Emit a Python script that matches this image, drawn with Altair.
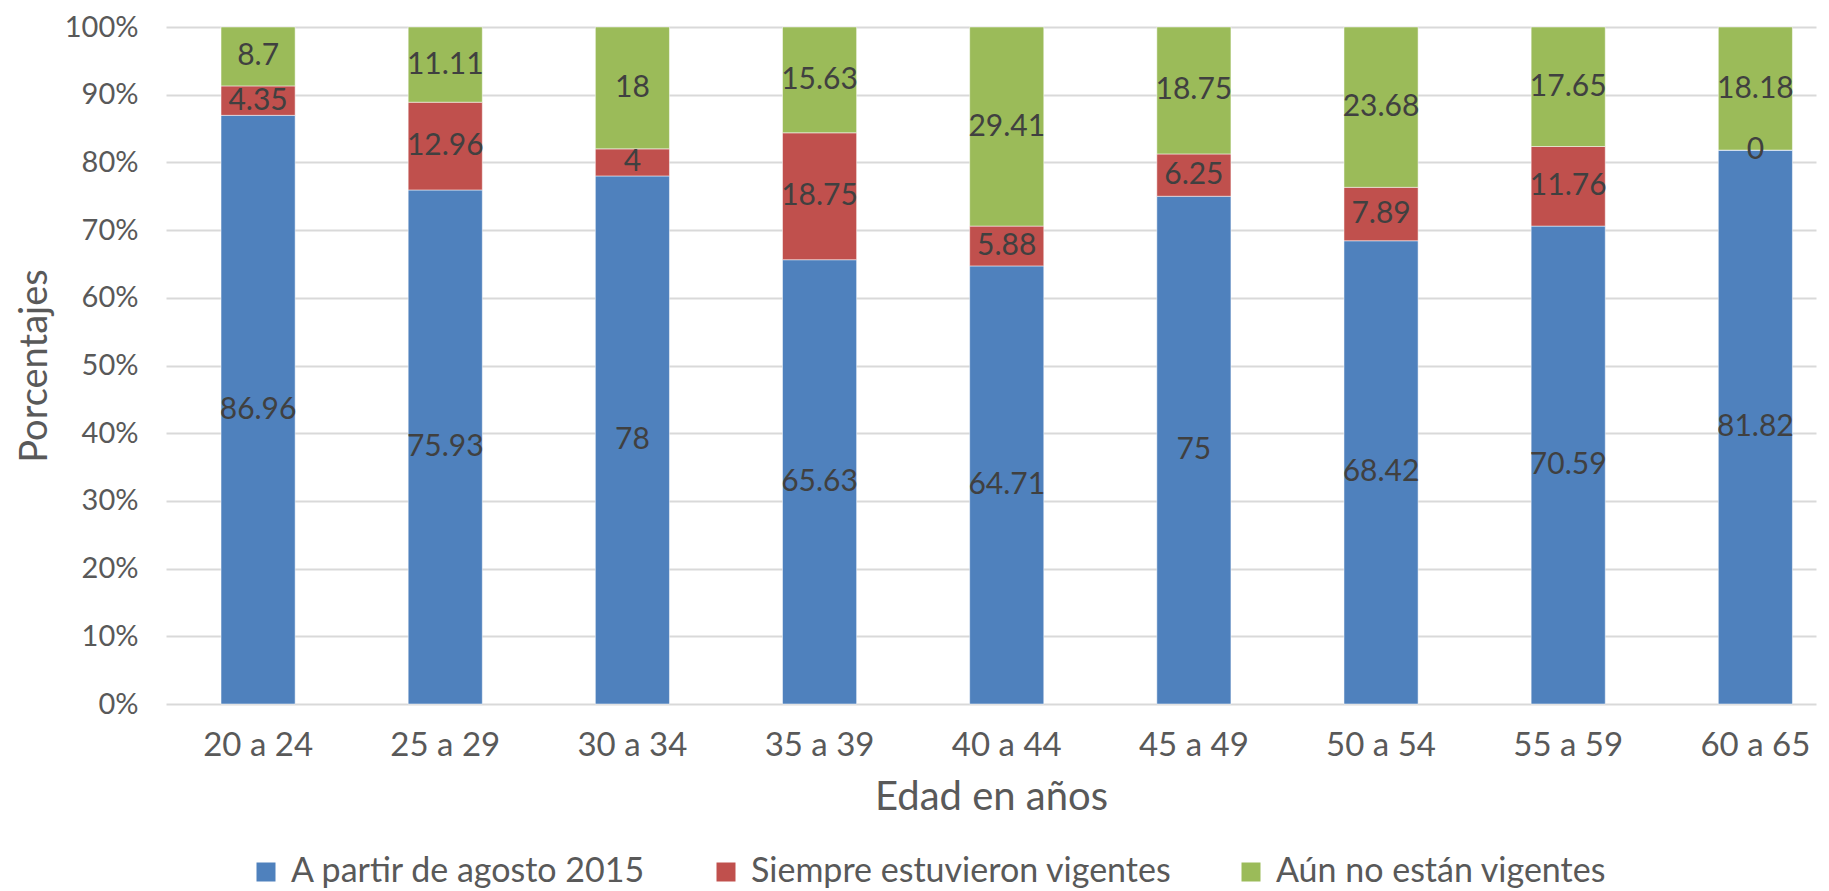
import altair as alt
import pandas as pd

categories = ["20 a 24", "25 a 29", "30 a 34", "35 a 39", "40 a 44",
              "45 a 49", "50 a 54", "55 a 59", "60 a 65"]
series = ["A partir de agosto 2015", "Siempre estuvieron vigentes", "Aún no están vigentes"]
a_partir = [86.96, 75.93, 78, 65.63, 64.71, 75, 68.42, 70.59, 81.82]
siempre = [4.35, 12.96, 4, 18.75, 5.88, 6.25, 7.89, 11.76, 0]
aun_no = [8.7, 11.11, 18, 15.63, 29.41, 18.75, 23.68, 17.65, 18.18]
colors = ["#4F81BD", "#C0504D", "#9BBB59"]

rows = []
for i, c in enumerate(categories):
    for k, (s, vals) in enumerate(zip(series, [a_partir, siempre, aun_no])):
        rows.append({"cat": c, "serie": s, "order": k, "value": vals[i],
                     "label": f"{vals[i]:g}"})
df = pd.DataFrame(rows)

FONT = "Lato"

base = alt.Chart(df).transform_stack(
    stack="value", groupby=["cat"], sort=[alt.SortField("order")],
    as_=["y0", "y1"], offset="normalize"
).transform_calculate(mid="(datum.y0 + datum.y1) / 2")

xenc = alt.X("cat:N", sort=categories, title="Edad en años",
             scale=alt.Scale(paddingInner=0.604, paddingOuter=0.21, align=0.7),
             axis=alt.Axis(labelAngle=0, domain=False, ticks=False,
                           labelFontSize=33, labelColor="#595959", labelPadding=25,
                           titleFontSize=40, titleColor="#595959", titleFontWeight="normal",
                           titlePadding=15, labelFont=FONT, titleFont=FONT))

bars = base.mark_bar(stroke="white", strokeWidth=0.5).encode(
    x=xenc,
    y=alt.Y("y0:Q", title="Porcentajes",
            scale=alt.Scale(domain=[0, 1], nice=False),
            axis=alt.Axis(format=".0%", values=[i / 10 for i in range(11)],
                          domain=False, ticks=False, labelFontSize=29,
                          labelColor="#595959", labelPadding=28, gridColor="#D9D9D9",
                          gridWidth=2, titleFontSize=38, titleColor="#595959",
                          titleFontWeight="normal", titlePadding=10,
                          labelFont=FONT, titleFont=FONT)),
    y2="y1:Q",
    color=alt.Color("serie:N", scale=alt.Scale(domain=series, range=colors),
                    sort=series,
                    legend=alt.Legend(title=None, orient="none", direction="horizontal",
                                      legendX=83, legendY=828, symbolType="square",
                                      symbolSize=361, symbolStrokeWidth=0,
                                      labelFontSize=34, labelColor="#595959",
                                      labelFont=FONT, columnPadding=62, labelOffset=8,
                                      labelLimit=700)),
)

labels = base.mark_text(fontSize=30, color="#404040", font=FONT, baseline="middle").encode(
    x=alt.X("cat:N", sort=categories),
    y=alt.Y("mid:Q"),
    text="label:N",
)

chart = (bars + labels).properties(
    width=1650, height=677,
    autosize=alt.AutoSizeParams(type="none"),
    padding={"left": 158, "top": 19, "right": 5, "bottom": 187},
).configure_view(stroke=None).configure_axis(gridColor="#D9D9D9")

chart.save("out.html", embed_options={"renderer": "svg", "actions": False})
